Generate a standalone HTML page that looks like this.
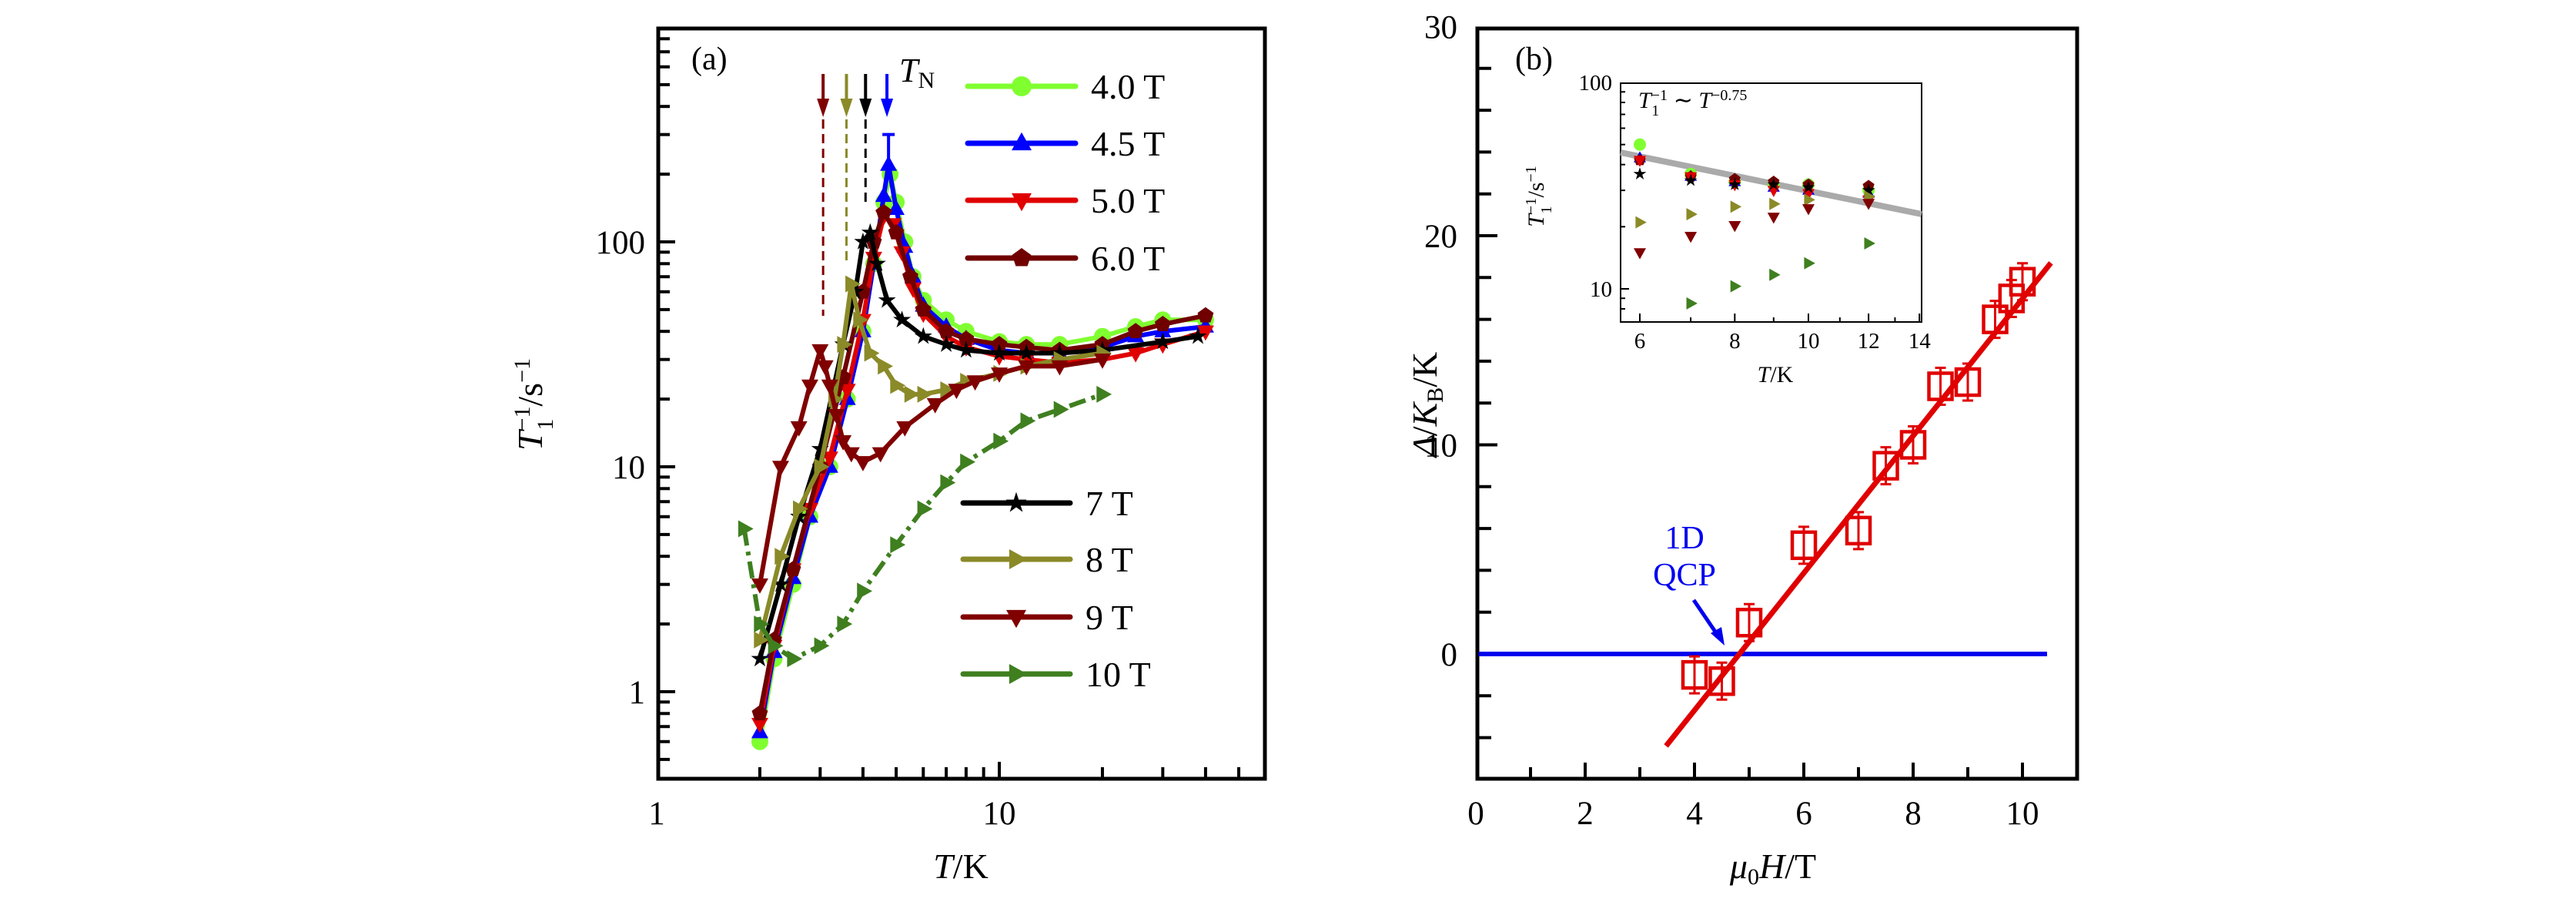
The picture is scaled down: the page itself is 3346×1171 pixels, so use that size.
<!DOCTYPE html>
<html><head><meta charset="utf-8"><style>
html,body{margin:0;padding:0;background:#fff;}
svg{display:block;}
text{font-family:"Liberation Serif",serif;fill:#000;}
</style></head><body>
<svg id="s" width="3346" height="1171" viewBox="0 0 3346 1171" xmlns="http://www.w3.org/2000/svg"></svg>
<script>
const S=document.getElementById('s');let h='';
const L=Math.log10;
const ax=T=>853+445*L(T), ay=v=>898-292*L(v);
const bx=x=>1917+71*x, by=y=>849-27.15*y;
const ix=T=>2130+987*L(T/6), iy=v=>375-268*L(v/10);
function mk(type,x,y,r,c){
 if(type=='c')return `<circle cx="${x}" cy="${y}" r="${r}" fill="${c}"/>`;
 let p=[];
 if(type=='u')p=[[0,-1.1],[1,0.7],[-1,0.7]];
 if(type=='d')p=[[0,1.1],[1,-0.7],[-1,-0.7]];
 if(type=='r')p=[[1.1,0],[-0.7,-1],[-0.7,1]];
 if(type=='p'){for(let i=0;i<5;i++){let a=-Math.PI/2+i*2*Math.PI/5;p.push([Math.cos(a),Math.sin(a)]);}}
 if(type=='s'){for(let i=0;i<10;i++){let a=-Math.PI/2+i*Math.PI/5,rr=i%2?0.42:1.1;p.push([rr*Math.cos(a),rr*Math.sin(a)]);}}
 return `<polygon points="${p.map(q=>(x+q[0]*r).toFixed(1)+','+(y+q[1]*r).toFixed(1)).join(' ')}" fill="${c}"/>`;
}
const series=[
 {c:'#80ff30',m:'c',d:[[2,0.6],[2.2,1.4],[2.5,3],[2.8,6],[3.2,10],[3.6,20],[4,40],[4.3,80],[4.6,150],[4.8,200],[5,150],[5.3,100],[5.6,70],[6,55],[7,45],[8,40],[10,36],[12,35],[15,35],[20,38],[25,42],[30,45],[40,45]]},
 {c:'#0000ff',m:'u',d:[[2,0.66],[2.2,1.5],[2.5,3.2],[2.8,6],[3.2,10],[3.6,20],[4,40],[4.3,80],[4.6,160],[4.75,220],[5,140],[5.3,95],[5.6,70],[6,52],[7,42],[8,37],[10,33],[12,32],[15,32],[20,34],[25,38],[30,40],[40,42]]},
 {c:'#e00000',m:'d',d:[[2,0.72],[2.2,1.6],[2.5,3.5],[2.8,6.5],[3.2,11],[3.6,22],[4,45],[4.3,85],[4.6,130],[4.9,120],[5.2,90],[5.6,62],[6,48],[7,38],[8,34],[10,31],[12,30],[15,29],[20,30],[25,32],[30,35],[40,40]]},
 {c:'#700000',m:'p',d:[[2,0.8],[2.2,1.7],[2.5,3.5],[3,10],[3.5,25],[4,60],[4.3,100],[4.6,135],[5,110],[5.5,70],[6,50],[7,40],[8,37],[10,35],[12,34],[15,33],[20,35],[25,40],[30,43],[40,47]]},
 {c:'#000000',m:'s',d:[[2,1.4],[2.3,3],[2.6,6],[3,12],[3.5,35],[3.8,60],[4,100],[4.2,110],[4.4,80],[4.7,55],[5.2,45],[6,38],[7,35],[8,33],[10,32],[12,32],[15,32],[20,33],[30,36],[38,38]]},
 {c:'#8a8a28',m:'r',d:[[2,1.7],[2.3,4],[2.6,6.5],[3,10],[3.3,20],[3.5,35],[3.7,65],[3.9,45],[4.2,32],[4.6,28],[5,23],[5.5,21],[6,21],[7,22],[8,24],[10,26],[12,28],[15,30],[20,32]]},
 {c:'#800000',m:'d',d:[[2,3],[2.3,10],[2.6,15],[2.8,23],[3,33],[3.1,28],[3.2,23],[3.35,17],[3.5,13],[3.7,11.5],[4,10.5],[4.5,11.5],[5.3,15],[6.5,19],[7.5,22],[8.5,24],[10,26],[12,28],[15,28],[20,30]]},
 {c:'#3f7f1f',m:'r',dash:'22 8 5 8',d:[[1.8,5.3],[2,2],[2.2,1.6],[2.5,1.4],[3,1.6],[3.5,2],[4,2.8],[5,4.5],[6,6.5],[7,8.5],[8,10.5],[10,13],[12,16],[15,18],[20,21]]}
];
h+=`<defs><clipPath id="ca"><rect x="853" y="35" width="792" height="978"/></clipPath></defs>`;
h+='<g clip-path="url(#ca)">';
for(const s of series){
 h+=`<polyline points="${s.d.map(p=>ax(p[0]).toFixed(1)+','+ay(p[1]).toFixed(1)).join(' ')}" fill="none" stroke="${s.c}" stroke-width="6" stroke-linejoin="round" ${s.dash?'stroke-dasharray="'+s.dash+'"':''}/>`;
 for(const p of s.d)h+=mk(s.m,ax(p[0]),ay(p[1]),11,s.c);
}
h+='</g>';
h+=`<path d="M${ax(4.75)},${ay(220)}V${ay(300)}M${ax(4.75)-8},${ay(300)}h16" stroke="#00f" stroke-width="4"/>`;
[[3.06,'#800000',410],[3.58,'#8a8a28',340],[4.07,'#000',265],[4.7,'#0000ff',null]].forEach(a=>{
 const x=ax(a[0]);
 h+=`<path d="M${x},96V135" stroke="${a[1]}" stroke-width="4"/><polygon points="${x-8},128 ${x+8},128 ${x},152" fill="${a[1]}"/>`;
 if(a[2])h+=`<path d="M${x},155V${a[2]}" stroke="${a[1]}" stroke-width="3" stroke-dasharray="12 7"/>`;
});
h+=`<text x="1168" y="106" font-size="44" font-style="italic">T<tspan font-size="30" font-style="normal" dy="8">N</tspan></text>`;
h+=`<text x="898" y="90" font-size="42">(a)</text>`;
const lg1=[[0,'4.0 T'],[1,'4.5 T'],[2,'5.0 T'],[3,'6.0 T']],ly1=[112,186,260,335];
lg1.forEach((l,i)=>{const s=series[l[0]];h+=`<line x1="1257" x2="1397" y1="${ly1[i]}" y2="${ly1[i]}" stroke="${s.c}" stroke-width="7" stroke-linecap="round"/>`+mk(s.m,1327,ly1[i],13,s.c)+`<text x="1417" y="${ly1[i]+16}" font-size="46">${l[1]}</text>`;});
const lg2=[[4,'7 T'],[5,'8 T'],[6,'9 T'],[7,'10 T']],ly2=[653,726,801,875];
lg2.forEach((l,i)=>{const s=series[l[0]];h+=`<line x1="1251" x2="1390" y1="${ly2[i]}" y2="${ly2[i]}" stroke="${s.c}" stroke-width="7" stroke-linecap="round"/>`+mk(s.m,1320,ly2[i],13,s.c)+`<text x="1410" y="${ly2[i]+16}" font-size="46">${l[1]}</text>`;});
h+=`<rect x="855" y="37" width="788" height="974" fill="none" stroke="#000" stroke-width="5"/>`;
for(let dec=0.1;dec<=100;dec*=10)for(let k=1;k<10;k++){const v=dec*k;const y=ay(v);if(y<40||y>1010)continue;h+=`<line x1="855" x2="${k==1?877:870}" y1="${y}" y2="${y}" stroke="#000" stroke-width="4"/>`;}
for(let dec=1;dec<=10;dec*=10)for(let k=1;k<10;k++){const v=dec*k;const x=ax(v);if(x<858||x>1640)continue;h+=`<line x1="${x}" x2="${x}" y1="1011" y2="${k==1?989:996}" stroke="#000" stroke-width="4"/>`;}
[['100',100],['10',10],['1',1]].forEach(t=>h+=`<text x="838" y="${ay(t[1])+15}" font-size="43" text-anchor="end">${t[0]}</text>`);
[['1',1],['10',10]].forEach(t=>h+=`<text x="${ax(t[1])}" y="1070" font-size="43" text-anchor="middle">${t[0]}</text>`);
h+=`<text x="1248" y="1140" font-size="46" text-anchor="middle"><tspan font-style="italic">T</tspan>/K</text>`;
h+=`<text transform="translate(704,525) rotate(-90)" font-size="46" text-anchor="middle"><tspan font-style="italic">T</tspan><tspan font-size="30" dy="-16">−1</tspan><tspan font-size="30" dx="-30" dy="30">1</tspan><tspan dx="16" dy="-14">/s</tspan><tspan font-size="30" dy="-16">−1</tspan></text>`;
// panel b
h+=`<rect x="1919" y="37" width="779" height="974" fill="none" stroke="#000" stroke-width="5"/>`;
for(let y=-6;y<=30;y+=2){const Y=by(y);if(Y<40||Y>1008)continue;h+=`<line x1="1919" x2="${y%10==0?1945:1937}" y1="${Y}" y2="${Y}" stroke="#000" stroke-width="4"/>`;}
for(let x=1;x<=10;x++){const X=bx(x);h+=`<line x1="${X}" x2="${X}" y1="1011" y2="${x%2==0?990:996}" stroke="#000" stroke-width="4"/>`;}
[30,20,10,0].forEach(v=>h+=`<text x="1893" y="${by(v)+15}" font-size="43" text-anchor="end">${v}</text>`);
[0,2,4,6,8,10].forEach(v=>h+=`<text x="${bx(v)}" y="1070" font-size="43" text-anchor="middle">${v}</text>`);
h+=`<text x="2303" y="1140" font-size="46" text-anchor="middle"><tspan font-style="italic">μ</tspan><tspan font-size="30" dy="8">0</tspan><tspan font-style="italic" dy="-8">H</tspan>/T</text>`;
h+=`<text transform="translate(1866,525) rotate(-90)" font-size="46" text-anchor="middle"><tspan font-style="italic">Δ</tspan>/<tspan font-style="italic">K</tspan><tspan font-size="30" dy="8">B</tspan><tspan dy="-8">/K</tspan></text>`;
h+=`<text x="1968" y="90" font-size="42">(b)</text>`;
h+=`<line x1="${bx(0.05)}" x2="${bx(10.45)}" y1="${by(0)}" y2="${by(0)}" stroke="#0000ee" stroke-width="6"/>`;
h+=`<line x1="${bx(3.48)}" y1="${by(-4.4)}" x2="${bx(10.52)}" y2="${by(18.7)}" stroke="#e00000" stroke-width="7"/>`;
[[4,-1],[4.5,-1.3],[5,1.5],[6,5.2],[7,5.9],[7.5,9],[8,10],[8.5,12.8],[9,13],[9.5,16],[9.8,17],[10,17.8]].forEach(p=>{const X=bx(p[0]),Y=by(p[1]);h+=`<path d="M${X},${Y-24}V${Y+24}M${X-7},${Y+24}h14M${X-7},${Y-24}h14" stroke="#e00000" stroke-width="3"/><rect x="${X-15}" y="${Y-17}" width="30" height="34" fill="none" stroke="#e00000" stroke-width="4.5"/>`;});
h+=`<text x="2188" y="712" font-size="42" text-anchor="middle" style="fill:#0000ee">1D</text><text x="2188" y="760" font-size="42" text-anchor="middle" style="fill:#0000ee">QCP</text>`;
h+=`<path d="M2200,779L2232,826" stroke="#0000ee" stroke-width="5"/><polygon points="2240,838 2222,822 2236,814" fill="#0000ee"/>`;
// inset
h+=`<rect x="2105" y="108" width="391" height="310" fill="#fff" stroke="#000" stroke-width="2"/>`;
h+=`<line x1="2105" y1="198" x2="2496" y2="278" stroke="#aaa" stroke-width="8"/>`;
for(let v=7;v<=100;v++){let d=v<10?1:(v<100?10:100);if(v%d)continue;const Y=iy(v);if(Y<110||Y>416)continue;h+=`<line x1="2105" x2="${(v==10||v==100)?2116:2111}" y1="${Y}" y2="${Y}" stroke="#000" stroke-width="2"/>`;}
for(let T=6;T<=14;T++){const X=ix(T);h+=`<line x1="${X}" x2="${X}" y1="418" y2="${T%2==0?407:412}" stroke="#000" stroke-width="2"/>`;}
[['100',100],['10',10]].forEach(t=>h+=`<text x="2094" y="${iy(t[1])+10}" font-size="29" text-anchor="end">${t[0]}</text>`);
[6,8,10,12,14].forEach(t=>h+=`<text x="${ix(t)}" y="452" font-size="29" text-anchor="middle">${t}</text>`);
h+=`<text x="2306" y="496" font-size="30" text-anchor="middle"><tspan font-style="italic">T</tspan>/K</text>`;
h+=`<text transform="translate(2005,255) rotate(-90)" font-size="30" text-anchor="middle"><tspan font-style="italic">T</tspan><tspan font-size="20" dy="-10">−1</tspan><tspan font-size="20" dx="-20" dy="20">1</tspan><tspan dx="11" dy="-10">/s</tspan><tspan font-size="20" dy="-10">−1</tspan></text>`;
h+=`<text x="2128" y="140" font-size="30"><tspan font-style="italic">T</tspan><tspan font-size="20" dy="-10">−1</tspan><tspan font-size="20" dx="-20" dy="20">1</tspan><tspan dx="11" dy="-10"> ∼ </tspan><tspan font-style="italic">T</tspan><tspan font-size="20" dy="-10">−0.75</tspan></text>`;
const ins=[
 [0,'c',[[6,50],[7,36],[8,33],[9,32],[10,32],[12,30]]],
 [1,'u',[[6,43],[7,35],[8,33],[9,31],[10,30],[12,29]]],
 [3,'p',[[6,42],[7,35],[8,34],[9,33],[10,32],[12,31.5]]],
 [2,'d',[[6,42],[7,35],[8,32],[9,30],[10,29],[12,27]]],
 [4,'s',[[6,36],[7,33.5],[8,32],[9,32],[10,31],[12,30]]],
 [5,'r',[[6,21],[7,23],[8,25],[9,25.8],[10,27],[12,28]]],
 [6,'d',[[6,15],[7,18],[8,20.3],[9,22.3],[10,24.5],[12,26]]],
 [7,'r',[[7,8.5],[8,10.3],[9,11.7],[10,13.3],[12,16.6]]]];
ins.forEach(s=>s[2].forEach(p=>h+=mk(s[1],ix(p[0]),iy(p[1]),8,series[s[0]].c)));
S.innerHTML=h;
</script>
</body></html>
